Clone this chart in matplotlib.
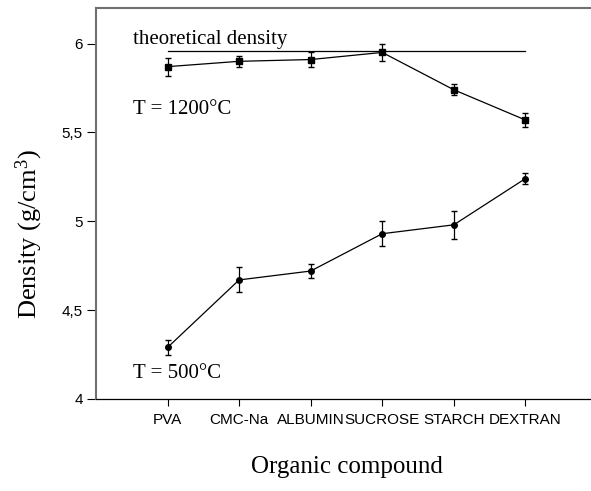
import matplotlib
matplotlib.use("Agg")
import matplotlib.pyplot as plt
import numpy as np

plt.rcParams["mathtext.fontset"] = "custom"
plt.rcParams["mathtext.rm"] = "Liberation Serif"
plt.rcParams["mathtext.it"] = "Liberation Serif:italic"
plt.rcParams["mathtext.bf"] = "Liberation Serif:bold"

categories = ["PVA", "CMC-Na", "ALBUMIN", "SUCROSE", "STARCH", "DEXTRAN"]
dens_1200 = [5.87, 5.90, 5.91, 5.95, 5.74, 5.57]
err_1200 = [0.05, 0.03, 0.04, 0.05, 0.03, 0.04]
dens_500 = [4.29, 4.67, 4.72, 4.93, 4.98, 5.24]
err_500 = [0.04, 0.07, 0.04, 0.07, 0.08, 0.03]
theoretical = 5.96

fig = plt.figure(figsize=(5.91, 4.91), dpi=100)
ax = fig.add_axes([96/591, 1-399/491, 1-96/591 + 0.01, (399-8)/491])
x = np.arange(1, len(categories)+1)

ax.plot([x[0], x[-1]], [theoretical, theoretical], color="black", lw=0.9)
ax.errorbar(x, dens_1200, yerr=err_1200, color="black", marker="s", ms=5,
            lw=0.9, elinewidth=0.9, capsize=2.5)
ax.errorbar(x, dens_500, yerr=err_500, color="black", marker="o", ms=4,
            lw=0.9, elinewidth=0.9, capsize=2.5)

serif = "Liberation Serif"
ax.text(0.517, 6.0, "theoretical density", family=serif, fontsize=15, va="baseline")
ax.text(0.517, 5.606, "T = 1200°C", family=serif, fontsize=15, va="baseline")
ax.text(0.517, 4.118, "T = 500°C", family=serif, fontsize=15, va="baseline")

ax.set_xlim(0, 7)
ax.set_ylim(4, 6.2)
ax.set_xticks(x)
ax.set_xticklabels(categories, family="Liberation Sans", fontsize=11)
ax.set_yticks([4, 4.5, 5, 5.5, 6])
ax.set_yticklabels(["4", "4,5", "5", "5,5", "6"], family="Liberation Sans", fontsize=11)
ax.tick_params(axis="x", length=5, width=0.8, pad=5)
ax.tick_params(axis="y", length=6.5, width=0.8, pad=3)

ax.spines["right"].set_visible(False)
ax.spines["left"].set_color("#707070")
ax.spines["left"].set_linewidth(1.5)
ax.spines["top"].set_color("#707070")
ax.spines["top"].set_linewidth(1.5)
ax.spines["bottom"].set_linewidth(0.9)

ax.set_ylabel("Density (g/cm$^3$)", family=serif, fontsize=19)
ax.yaxis.set_label_coords(-0.102, 0.422)
ax.set_xlabel("Organic compound", family=serif, fontsize=18, labelpad=21)
fig.savefig("out.png", dpi=100)
